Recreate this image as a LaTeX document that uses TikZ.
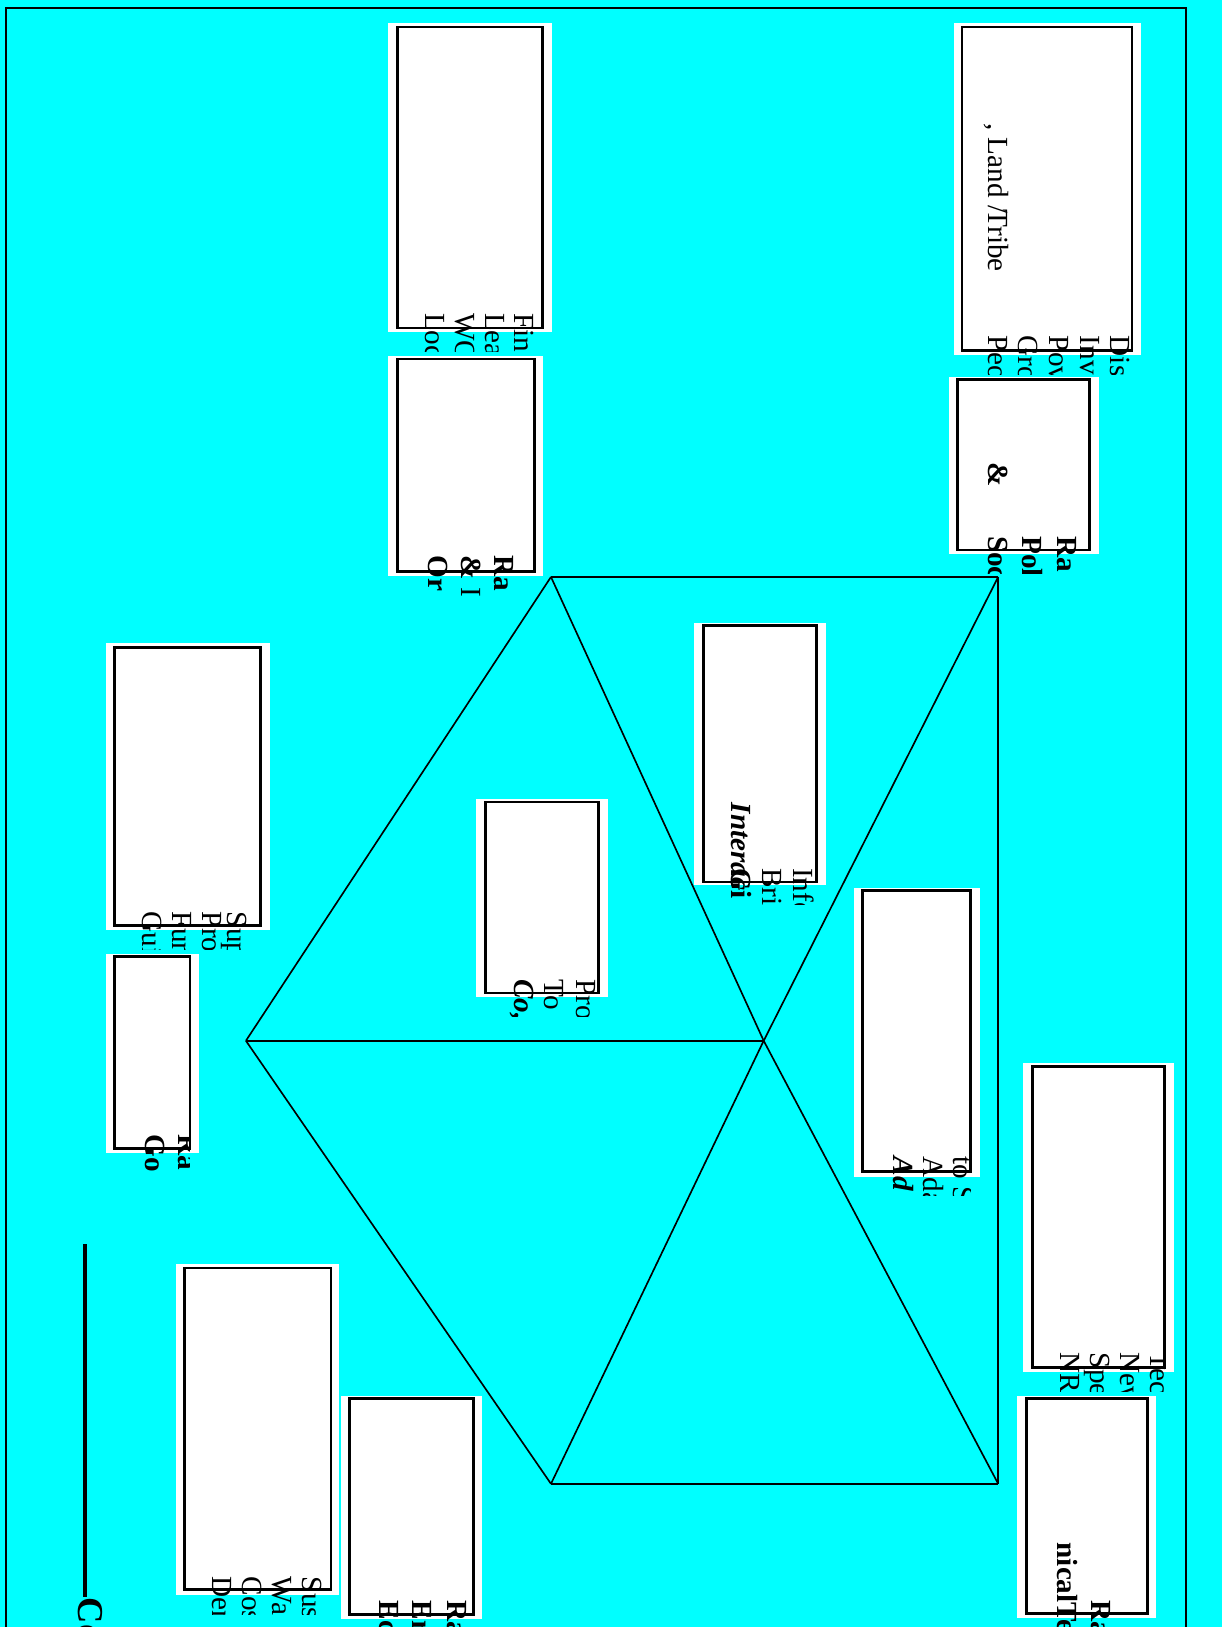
\documentclass[tikz,border=0pt]{standalone}
\usepackage{fontspec}
\setmainfont{Liberation Serif}
\usetikzlibrary{positioning}
\definecolor{bgcyan}{RGB}{0,255,255}

\begin{document}
\begin{tikzpicture}[
    x=0.01cm, y=-0.01cm,
    edge/.style={draw=black, line width=0.45pt},
    rim/.style={draw=black, line width=0.75pt},
    txt/.style={rotate=-90, anchor=base west, inner sep=0pt, font=\fontsize{8}{9}\selectfont},
    hd/.style={txt, font=\fontsize{8}{9}\selectfont\bfseries},
    hdi/.style={txt, font=\fontsize{8}{9}\selectfont\bfseries\itshape}
  ]

  %% Page and frame
  \useasboundingbox (0,0) rectangle (1178,1568);
  \clip (0,0) rectangle (1178,1568);
  \fill[bgcyan] (0,0) rectangle (1178,1568);
  \draw[line width=0.55pt] (6,8) rectangle (1143,1700);

  %% Triangle corners
  \coordinate (tl)  at (531,556);
  \coordinate (tr)  at (962,556);
  \coordinate (lft) at (237,1003);
  \coordinate (ctr) at (736,1003);
  \coordinate (bl)  at (531,1430);
  \coordinate (br)  at (962,1430);

  %% Triangle edges
  \foreach \s/\t in {tl/tr, tl/lft, tl/ctr, tr/ctr, tr/br, lft/ctr, lft/bl, ctr/bl, ctr/br, bl/br}{
    \draw[edge] (\s) -- (\t);
  }

  %% Panels (white pad + black rim)
  \foreach \wa/\wb/\wc/\wd/\ba/\bb/\bc/\bd in {
      919/22/1100/342/927/26/1091/338,
      915/363/1059/534/923/366/1050/530,
      374/22/532/320/383/26/523/316,
      374/343/523/555/383/346/515/551,
      102/620/260/896/110/624/251/892,
      102/919/192/1111/110/922/183/1107,
      459/770/586/961/468/773/577/957,
      669/600/796/853/678/603/787/850,
      823/856/944/1134/831/858/935/1129,
      986/1024/1131/1322/995/1028/1122/1318,
      980/1345/1114/1559/989/1348/1106/1555,
      170/1218/327/1537/178/1222/319/1532,
      329/1345/465/1560/337/1348/456/1556}{
    \fill[white] (\wa,\wb) rectangle (\wc,\wd);
    \draw[rim] (\ba,\bb) rectangle (\bc,\bd);
  }

  %% Panel A
  \begin{scope}
    \clip (927,26) rectangle (1091,361);
    \node[txt] (a1) at (1070,323) {Dis};
    \node[txt] (a2) at (1041,323) {Inv};
    \node[txt] (a3) at (1011,323) {Pov};
    \node[txt] (a4) at (982,323) {Gro};
    \node[txt] (a5) at (953,323) {Peo};
    \node[txt] (a6) at (953,118) {, Land /\kern-1pt Tribe};
  \end{scope}

  %% Panel B
  \begin{scope}
    \clip (923,366) rectangle (1050,553);
    \node[hd] (b1) at (1019,516) {Ra};
    \node[hd] (b2) at (985,516) {Pol};
    \node[hd] (b3) at (953,516) {Soc};
    \node[hd] (b4) at (953,445) {\&};
  \end{scope}

  %% Panel C
  \begin{scope}
    \clip (383,26) rectangle (523,339);
    \node[txt] (c1) at (496,301) {Fin};
    \node[txt] (c2) at (468,301) {Lea};
    \node[txt] (c3) at (439,301) {WO};
    \node[txt] (c4) at (410,301) {Loc};
  \end{scope}

  %% Panel D
  \begin{scope}
    \clip (383,346) rectangle (515,574);
    \node[hd]  (d1) at (477,535) {Ra};
    \node[txt] (d2) at (445,535) {\textbf{\&} I};
    \node[hd]  (d3) at (413,535) {Or};
  \end{scope}

  %% Panel E
  \begin{scope}
    \clip (110,624) rectangle (251,915);
    \node[txt] (e1) at (219,878) {Sup};
    \node[txt] (e2) at (195,878) {Pro};
    \node[txt] (e3) at (166,878) {Fun};
    \node[txt] (e4) at (137,878) {Gui};
  \end{scope}

  %% Panel F
  \begin{scope}
    \clip (110,922) rectangle (183,1130);
    \node[hd] (f1) at (172,1093) {Ra};
    \node[hd] (f2) at (140,1093) {Go};
  \end{scope}

  %% Panel G
  \begin{scope}
    \clip (468,773) rectangle (577,980);
    \node[txt] (g1) at (556,943) {Pro};
    \node[txt] (g2) at (525,943) {To};
    \node[hdi] (g3) at (496,943) {Co,};
  \end{scope}

  %% Panel H
  \begin{scope}
    \clip (678,603) rectangle (787,872);
    \node[txt] (h1) at (765,836) {Info};
    \node[txt] (h2) at (735,836) {Bri};
    \node[hdi] (h3) at (705,773) {Interac};
    \node[hd]  (h4) at (705,836) {Gi};
  \end{scope}

  %% Panel I
  \begin{scope}
    \clip (831,858) rectangle (935,1152);
    \node[txt] (i1) at (919,1114) {to S};
    \node[txt] (i2) at (890,1114) {Ada};
    \node[hdi] (i3) at (861,1114) {Ad};
  \end{scope}

  %% Panel J
  \begin{scope}
    \clip (995,1028) rectangle (1122,1341);
    \node[txt] (j1) at (1109,1303) {Tec};
    \node[txt] (j2) at (1080,1303) {New};
    \node[txt] (j3) at (1051,1303) {Spe};
    \node[txt] (j4) at (1022,1303) {NR};
  \end{scope}

  %% Panel K
  \begin{scope}
    \clip (989,1348) rectangle (1106,1600);
    \node[hd] (k1) at (1052,1542) {Ra};
    \node[hd] (k2) at (1019,1486) {nicalTe};
  \end{scope}

  %% Panel L
  \begin{scope}
    \clip (178,1222) rectangle (319,1556);
    \node[txt] (l1) at (292,1519) {Sus};
    \node[txt] (l2) at (263,1519) {Wa};
    \node[txt] (l3) at (234,1519) {Cos};
    \node[txt] (l4) at (205,1519) {Den};
  \end{scope}

  %% Panel M
  \begin{scope}
    \clip (337,1348) rectangle (456,1600);
    \node[hd] (m1) at (431,1542) {Ra};
    \node[hd] (m2) at (398,1542) {Er};
    \node[hd] (m3) at (366,1542) {Ec};
  \end{scope}

  %% Bottom-left title and rule
  \node[txt, font=\fontsize{10}{12}\selectfont\bfseries] (co) at (76,1539) {Co};
  \coordinate (rtop) at (82,1199);
  \draw[line width=1.1pt] (rtop) -- (co.west -| rtop);

\end{tikzpicture}
\end{document}
